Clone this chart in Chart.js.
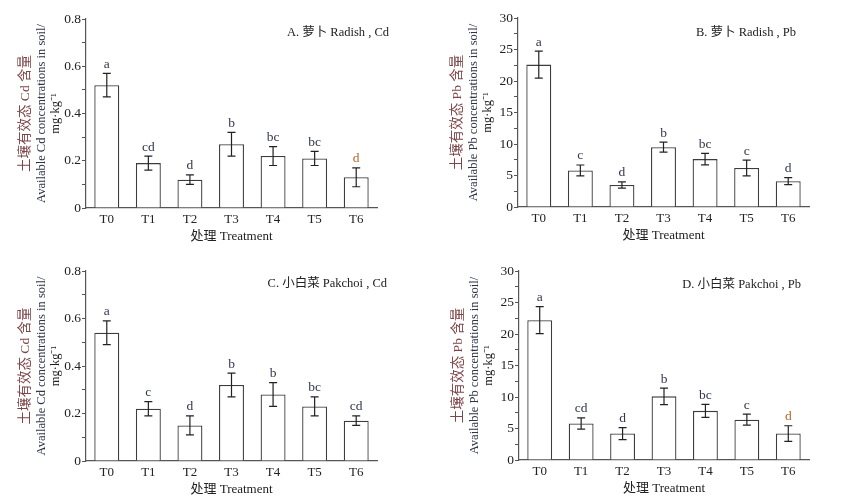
<!DOCTYPE html>
<html><head><meta charset="utf-8">
<script src="https://cdn.jsdelivr.net/npm/chart.js@4.4.0/dist/chart.umd.min.js"></script>
<style>
html,body{margin:0;padding:0;background:#fff;}
#wrap{position:relative;width:842px;height:500px;overflow:hidden;}
canvas{position:absolute;}
</style></head><body>
<div id="wrap">
<canvas id="cA" width="421" height="250" style="left:0;top:0"></canvas>
<canvas id="cB" width="421" height="250" style="left:421px;top:0"></canvas>
<canvas id="cC" width="421" height="250" style="left:0;top:250px"></canvas>
<canvas id="cD" width="421" height="250" style="left:421px;top:250px"></canvas>
</div>
<script>
const categories = ['T0','T1','T2','T3','T4','T5','T6'];

const radishCd = [0.52, 0.19, 0.12, 0.27, 0.22, 0.21, 0.13];
const radishCdErr = [0.05, 0.03, 0.02, 0.05, 0.04, 0.03, 0.04];
const radishCdLetters = ['a','cd','d','b','bc','bc','d'];

const radishPb = [22.6, 5.8, 3.5, 9.5, 7.6, 6.2, 4.1];
const radishPbErr = [2.15, 0.87, 0.5, 0.8, 0.9, 1.25, 0.55];
const radishPbLetters = ['a','c','d','b','bc','c','d'];

const pakchoiCd = [0.54, 0.22, 0.15, 0.32, 0.28, 0.23, 0.17];
const pakchoiCdErr = [0.05, 0.03, 0.04, 0.05, 0.05, 0.04, 0.02];
const pakchoiCdLetters = ['a','c','d','b','b','bc','cd'];

const pakchoiPb = [22.2, 5.8, 4.2, 10.1, 7.8, 6.4, 4.2];
const pakchoiPbErr = [2.15, 0.9, 0.95, 1.3, 1.03, 0.87, 1.24];
const pakchoiPbLetters = ['a','cd','d','b','bc','c','d'];

const cdAxis = {max: 0.8, step: 0.1, labelEvery: 2};
const pbAxis = {max: 30, step: 2.5, labelEvery: 2};

const panelTitles = ['A. 萝卜 Radish , Cd', 'B. 萝卜 Radish , Pb', 'C. 小白菜 Pakchoi , Cd', 'D. 小白菜 Pakchoi , Pb'];
const yTitlesCd = ['土壤有效态 Cd 含量', 'Available Cd concentrations in soil/', 'mg·kg⁻¹'];
const yTitlesPb = ['土壤有效态 Pb 含量', 'Available Pb concentrations in soil/', 'mg·kg⁻¹'];
const xTitle = '处理 Treatment';

const SERIF = '"Liberation Serif", "Noto Sans CJK SC", serif';
const LETTER = '#33384f';
const ORANGE = '#b5692e';

const annotPlugin = {
  id: 'annot',
  afterDatasetsDraw(chart, args, o) {
    const ctx = chart.ctx, y = chart.scales.y, meta = chart.getDatasetMeta(0);
    const data = chart.data.datasets[0].data;
    ctx.save();
    ctx.strokeStyle = '#222'; ctx.lineWidth = 1.2;
    meta.data.forEach((bar, i) => {
      const yt = y.getPixelForValue(data[i] + o.errors[i]);
      const yb = y.getPixelForValue(data[i] - o.errors[i]);
      const x = bar.x, c = 4;
      ctx.beginPath();
      ctx.moveTo(x, yt); ctx.lineTo(x, yb);
      ctx.moveTo(x - c, yt); ctx.lineTo(x + c, yt);
      ctx.moveTo(x - c, yb); ctx.lineTo(x + c, yb);
      ctx.stroke();
      ctx.fillStyle = o.letterColors[i];
      ctx.font = '13.5px ' + SERIF;
      ctx.textAlign = 'center'; ctx.textBaseline = 'alphabetic';
      ctx.fillText(o.letters[i], x, yt - 5.5);
    });
    // panel label
    ctx.fillStyle = '#222';
    ctx.font = '12.5px ' + SERIF;
    ctx.textAlign = 'right'; ctx.textBaseline = 'middle';
    ctx.fillText(o.panel, o.panelX, o.panelY);
    // y title
    const a = chart.chartArea, cy = (a.top + a.bottom) / 2;
    const offs = [61, 44, 30];
    const cols = ['#7d4548', '#2e3447', '#222'];
    const fonts = ['13.5px ', '12.5px ', '12.5px '];
    o.yTitle.forEach((t, k) => {
      ctx.save();
      ctx.translate(a.left - offs[k], cy);
      ctx.rotate(-Math.PI / 2);
      ctx.fillStyle = cols[k];
      ctx.font = fonts[k] + SERIF;
      ctx.textAlign = 'center'; ctx.textBaseline = 'middle';
      ctx.fillText(t, 0, 0);
      ctx.restore();
    });
    ctx.restore();
  }
};

function makePanel(id, values, errs, letters, letterColors, ax, panel, yTitle, area, panelPos) {
  const YW = 30, XH = 42;
  new Chart(document.getElementById(id), {
    type: 'bar',
    data: {
      labels: categories,
      datasets: [{
        data: values,
        backgroundColor: '#ffffff',
        borderColor: '#3c3c3c',
        borderWidth: 1.3,
        categoryPercentage: 1.0,
        barPercentage: 0.6
      }]
    },
    plugins: [annotPlugin],
    options: {
      responsive: false,
      animation: false,
      layout: { padding: { left: area.left - YW, top: area.top, right: 421 - area.right, bottom: 250 - area.bottom - XH } },
      plugins: {
        legend: { display: false },
        tooltip: { enabled: false },
        annot: { errors: errs, letters: letters, letterColors: letterColors, panel: panel, panelX: panelPos[0], panelY: panelPos[1], yTitle: yTitle }
      },
      scales: {
        x: {
          offset: true,
          grid: { display: true, drawOnChartArea: false, drawTicks: false },
          border: { display: true, color: '#555', width: 1.2 },
          ticks: { color: '#222', padding: 4, font: { family: SERIF, size: 13 } },
          title: { display: true, text: xTitle, color: '#222', font: { family: SERIF, size: 13 }, padding: { top: 0, bottom: 6 } },
          afterFit(s) { s.height = XH; }
        },
        y: {
          min: 0, max: ax.max,
          grid: { display: true, drawOnChartArea: false, drawTicks: true, tickLength: 4, color: '#555', lineWidth: 1 },
          border: { display: true, color: '#555', width: 1.2 },
          ticks: {
            stepSize: ax.step, autoSkip: false, padding: 1, color: '#222',
            font: { family: SERIF, size: 13.5 },
            callback(v) {
              const k = Math.round(v / ax.step);
              if (k % ax.labelEvery !== 0) return '';
              if (v === 0) return '0';
              return ax.max < 5 ? v.toFixed(1) : String(Math.round(v));
            }
          },
          afterFit(s) { s.width = YW; }
        }
      }
    }
  });
}

const plainCols = (n, special) => categories.map((c, i) => (special && i === n) ? ORANGE : LETTER);

makePanel('cA', radishCd, radishCdErr, radishCdLetters, plainCols(6, true), cdAxis, panelTitles[0], yTitlesCd,
  {left: 86, top: 19, right: 377, bottom: 208}, [389, 33]);
makePanel('cB', radishPb, radishPbErr, radishPbLetters, plainCols(6, false), pbAxis, panelTitles[1], yTitlesPb,
  {left: 97, top: 18, right: 388, bottom: 207}, [375, 33]);
makePanel('cC', pakchoiCd, pakchoiCdErr, pakchoiCdLetters, plainCols(6, false), cdAxis, panelTitles[2], yTitlesCd,
  {left: 86, top: 21, right: 377, bottom: 211}, [387, 34]);
makePanel('cD', pakchoiPb, pakchoiPbErr, pakchoiPbLetters, plainCols(6, true), pbAxis, panelTitles[3], yTitlesPb,
  {left: 98, top: 21, right: 388, bottom: 210}, [380, 35]);
</script>
</body></html>
